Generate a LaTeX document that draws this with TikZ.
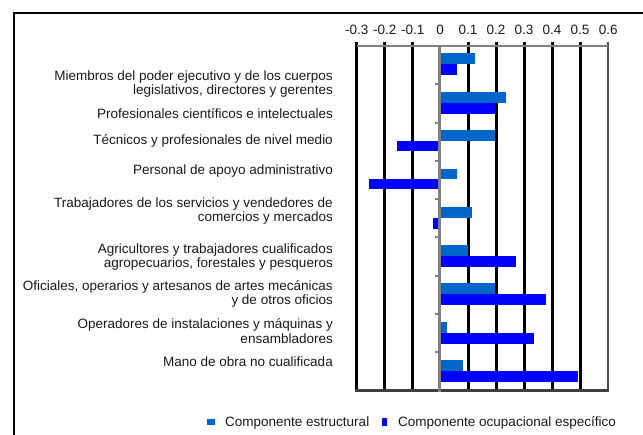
\documentclass[tikz,border=0pt]{standalone}
\usepackage{fontspec}
\setmainfont{Liberation Sans}
\usepackage{tikz}
\definecolor{estruct}{HTML}{0066CC}
\definecolor{ocupac}{HTML}{0000FF}
\tikzset{
  lbl/.style={anchor=east, align=right, inner sep=0pt, text=black!90,
    font=\fontsize{13.5}{14.3}\selectfont},
  ticklbl/.style={inner sep=0pt, text=black!90, font=\fontsize{13.5}{14.3}\selectfont},
  grid line/.style={line width=3pt, black},
  cat tick/.style={line width=2pt, black!50}
}

\begin{document}
\begin{tikzpicture}[x=1pt, y=-1pt]
			%%%%% START %%%%%
			\useasboundingbox (0, 0) rectangle (643, 435);
			
			% frame
			\draw[line width=2pt] (14, 435) -- (14, 13) -- (643, 13);
			
			% grid lines
			\draw[grid line] (356.7, 42) -- (356.7, 390.7);
			\draw[grid line] (384.7, 42) -- (384.7, 390.7);
			\draw[grid line] (412.7, 42) -- (412.7, 390.7);
			\draw[grid line] (468.0, 42) -- (468.0, 390.7);
			\draw[grid line] (496.0, 42) -- (496.0, 390.7);
			\draw[grid line] (524.0, 42) -- (524.0, 390.7);
			\draw[grid line] (552.0, 42) -- (552.0, 390.7);
			\draw[grid line] (580.0, 42) -- (580.0, 390.7);
			\draw[line width=2pt, black!70] (608.3, 42) -- (608.3, 390.7);
			\draw[line width=2pt, black!50] (356.7, 46) -- (608.3, 46);
			\draw[line width=2.5pt, black!75] (355.2, 390.7) -- (609.3, 390.7);
			
			% axis labels
			\node[ticklbl] (xm3) at (356.7, 30) {-0.3};
			\node[ticklbl] (xm2) at (384.7, 30) {-0.2};
			\node[ticklbl] (xm1) at (412.7, 30) {-0.1};
			\node[ticklbl] (x0) at (440.0, 30) {0};
			\node[ticklbl] (x1) at (468.0, 30) {0.1};
			\node[ticklbl] (x2) at (496.0, 30) {0.2};
			\node[ticklbl] (x3) at (524.0, 30) {0.3};
			\node[ticklbl] (x4) at (552.0, 30) {0.4};
			\node[ticklbl] (x5) at (580.0, 30) {0.5};
			\node[ticklbl] (x6) at (608.3, 30) {0.6};
			
			% bars, value axis in units of 1
			\begin{scope}[shift={(440, 0)}, x=280pt]
			\fill[estruct] (0, 53.5) rectangle (0.125, 64.5);
			\fill[ocupac] (0, 64.5) rectangle (0.061, 75.5);
			\fill[estruct] (0, 91.8) rectangle (0.234, 102.8);
			\fill[ocupac] (0, 102.8) rectangle (0.198, 113.8);
			\fill[estruct] (0, 130.1) rectangle (0.198, 141.1);
			\fill[ocupac] (0, 141.1) rectangle (-0.153, 151.1);
			\fill[estruct] (0, 168.9) rectangle (0.061, 179.4);
			\fill[ocupac] (0, 179.4) rectangle (-0.253, 189.4);
			\fill[estruct] (0, 206.7) rectangle (0.114, 217.7);
			\fill[ocupac] (0, 217.7) rectangle (-0.025, 228.7);
			\fill[estruct] (0, 245.0) rectangle (0.100, 256.0);
			\fill[ocupac] (0, 256.0) rectangle (0.270, 267.0);
			\fill[estruct] (0, 283.3) rectangle (0.198, 294.3);
			\fill[ocupac] (0, 294.3) rectangle (0.378, 305.3);
			\fill[estruct] (0, 321.6) rectangle (0.025, 332.6);
			\fill[ocupac] (0, 332.6) rectangle (0.335, 343.6);
			\fill[estruct] (0, 359.9) rectangle (0.082, 370.9);
			\fill[ocupac] (0, 370.9) rectangle (0.492, 381.9);
			\end{scope}
			
			% category axis
			\draw[line width=3pt, black!50] (439, 46) -- (439, 392);
			\draw[cat tick] (435, 46.0) -- (439, 46.0);
			\draw[cat tick] (435, 84.3) -- (439, 84.3);
			\draw[cat tick] (435, 122.6) -- (439, 122.6);
			\draw[cat tick] (435, 160.9) -- (439, 160.9);
			\draw[cat tick] (435, 199.2) -- (439, 199.2);
			\draw[cat tick] (435, 237.5) -- (439, 237.5);
			\draw[cat tick] (435, 275.8) -- (439, 275.8);
			\draw[cat tick] (435, 314.1) -- (439, 314.1);
			\draw[cat tick] (435, 352.4) -- (439, 352.4);
			
			% category labels
			\node[lbl] (miembros) at (333, 83.7) {Miembros del poder ejecutivo y de los cuerpos\\legislativos, directores y gerentes};
			\node[lbl] (profes) at (333, 114) {Profesionales científicos e intelectuales};
			\node[lbl] (tecnicos) at (333, 141) {Técnicos y profesionales de nivel medio};
			\node[lbl] (personal) at (333, 171) {Personal de apoyo administrativo};
			\node[lbl] (trabaj) at (333, 210.7) {Trabajadores de los servicios y vendedores de\\comercios y mercados};
			\node[lbl] (agric) at (333, 257) {Agricultores y trabajadores cualificados\\agropecuarios, forestales y pesqueros};
			\node[lbl] (oficiales) at (333, 293.7) {Oficiales, operarios y artesanos de artes mecánicas\\y de otros oficios};
			\node[lbl] (operad) at (333, 331) {Operadores de instalaciones y máquinas y\\ensambladores};
			\node[lbl] (mano) at (333, 361.7) {Mano de obra no cualificada};
			
			% legend
			\fill[estruct] (207.3, 419.3) rectangle (215, 424.7);
			\node[ticklbl, anchor=west] (legestruct) at (225, 423) {Componente estructural};
			\fill[ocupac] (381.7, 418.3) rectangle (387.3, 426);
			\node[ticklbl, anchor=west] (legocupac) at (398, 423) {Componente ocupacional específico};
			
			%%%%% END %%%%%
\end{tikzpicture}
\end{document}
